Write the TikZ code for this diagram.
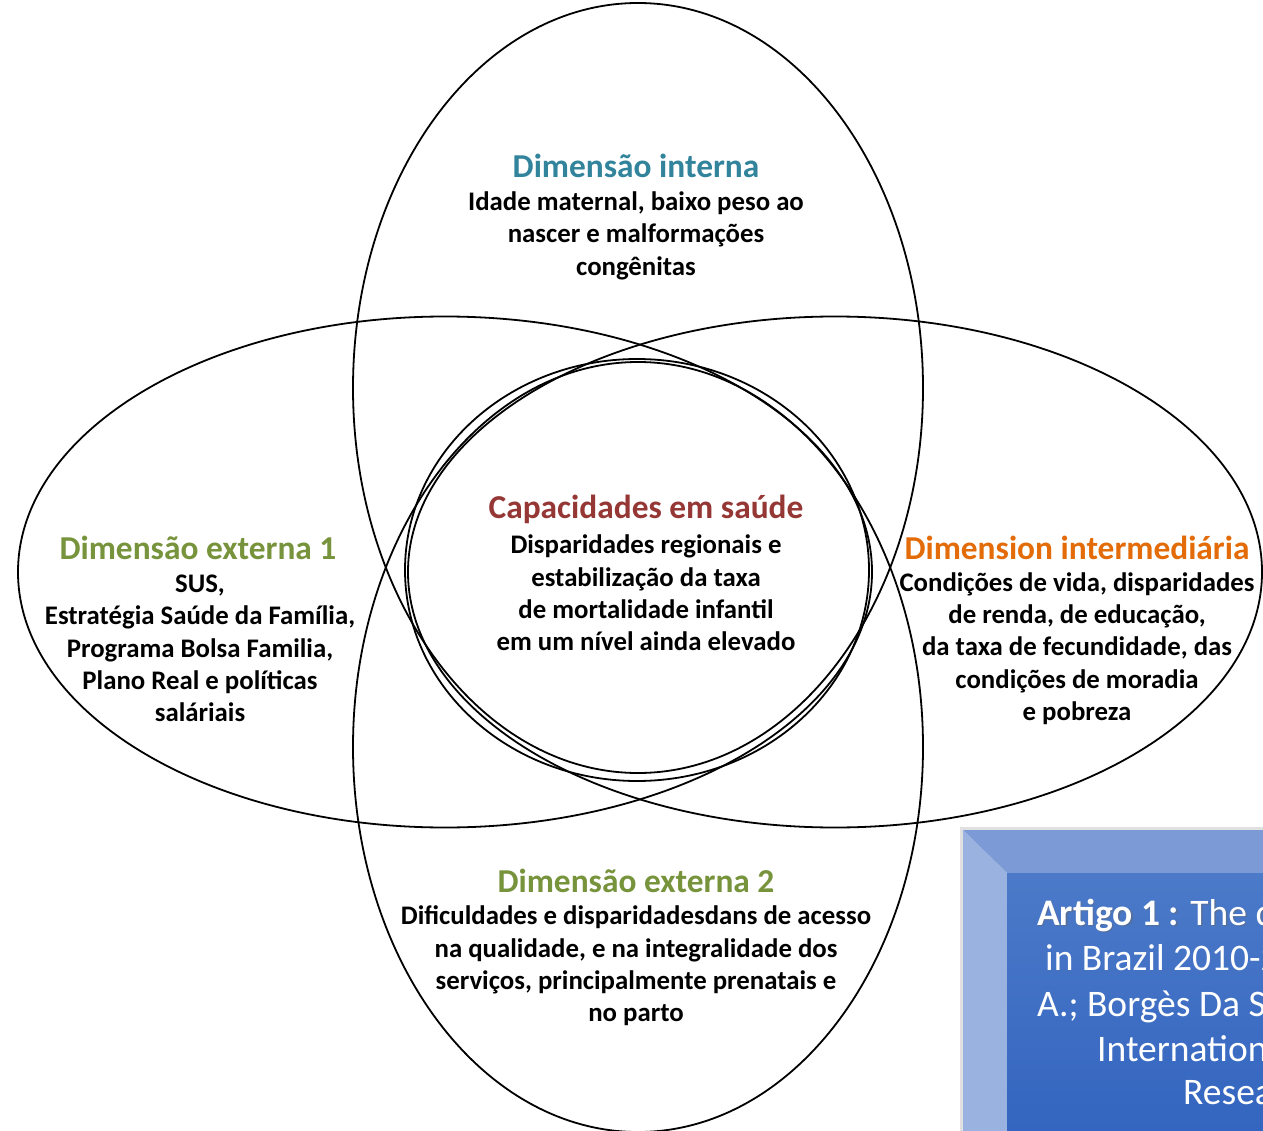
\documentclass[tikz,border=0pt]{standalone}
\usepackage{fontspec}
\setmainfont{Carlito}
\usetikzlibrary{shapes.geometric}
\definecolor{cTeal}{HTML}{31849B}
\definecolor{cGreen}{HTML}{77933C}
\definecolor{cOrange}{HTML}{E36C09}
\definecolor{cRed}{HTML}{953735}
\definecolor{bevTop}{HTML}{7B9AD6}
\definecolor{bevLeft}{HTML}{9AB2E0}
\definecolor{faceTop}{HTML}{4C7AC9}
\definecolor{faceBot}{HTML}{3062BE}
\begin{document}
\begin{tikzpicture}[x=1pt,y=-1pt,
  ell/.style={draw=black, line width=1.8pt, ellipse, inner sep=0pt, outer sep=0pt},
  ttl/.style={font=\bfseries\fontsize{33.4}{38}\selectfont, align=center, inner sep=0pt},
  body/.style={font=\bfseries\fontsize{26.8}{32.4}\selectfont, align=center, inner sep=0pt, text=black},
  boxtxt/.style={font=\fontsize{37.5}{45}\selectfont, text=white, anchor=base west, inner sep=0pt},
  boxshd/.style={font=\fontsize{37.5}{45}\selectfont, text=black!60, opacity=0.45, anchor=base west, inner sep=0pt}]
\useasboundingbox (0,0) rectangle (1263,1131);
\fill[white] (0,0) rectangle (1263,1131);

% ellipses
\node[ell, minimum width=854pt, minimum height=511pt] (eLeft) at (445,572) {};
\node[ell, minimum width=854pt, minimum height=511pt] (eRight) at (835,572) {};
\node[ell, minimum width=570pt, minimum height=770pt] (eTop) at (638,388) {};
\node[ell, minimum width=570pt, minimum height=770pt] (eBot) at (638,747) {};
\node[ell, minimum width=464pt, minimum height=422pt] (eCen) at (637,570) {};

% texts
\node[ttl, text=cTeal] (tInt) at (636,166) {Dimensão interna};
\node[body] (bInt) at (636,235.5) {Idade maternal, baixo peso ao\\nascer e malformações\\congênitas};

\node[ttl, text=cRed] (tCen) at (646,509) {Capacidades em saúde};
\node[body] (bCen) at (646,593) {Disparidades regionais e\\estabilização da taxa\\de mortalidade infantil\\em um nível ainda elevado};

\node[ttl, text=cGreen] (tExt1) at (198,548) {Dimensão externa 1};
\node[body] (bExt1) at (200,648.5) {SUS,\\Estratégia Saúde da Família,\\Programa Bolsa Familia,\\Plano Real e políticas\\saláriais};

\node[ttl, text=cOrange] (tMid) at (1077,548) {Dimension intermediária};
\node[body] (bMid) at (1077,648.5) {Condições de vida, disparidades\\de renda, de educação,\\da taxa de fecundidade, das\\condições de moradia\\e pobreza};

\node[ttl, text=cGreen] (tExt2) at (636,881) {Dimensão externa 2};
\node[body] (bExt2) at (636,966) {Dificuldades e disparidadesdans de acesso\\na qualidade, e na integralidade dos\\serviços, principalmente prenatais e\\no parto};

% beveled box
\begin{scope}
\clip (0,0) rectangle (1263,1131);
\fill[black!12] (960,827) rectangle (1300,1170);
\fill[bevTop] (963,830) -- (1300,830) -- (1300,873) -- (1007,873) -- cycle;
\fill[bevLeft] (963,830) -- (1007,873) -- (1007,1170) -- (963,1170) -- cycle;
\shade[top color=faceTop, bottom color=faceBot] (1007,873) rectangle (1300,1170);
\node[boxshd] (s1) at (1038.5,926.5) {\textbf{Artigo 1 :} The de};
\node[boxtxt] (a1) at (1037,925) {\textbf{Artigo 1 :} The de};
\node[boxtxt] (a2) at (1045,970) {in Brazil 2010-20};
\node[boxtxt] (a3) at (1037,1016) {A.; Borgès Da Si};
\node[boxtxt] (a4) at (1097,1061) {Internationa};
\node[boxtxt] (a5) at (1183,1104) {Resear};
\end{scope}
\end{tikzpicture}
\end{document}
